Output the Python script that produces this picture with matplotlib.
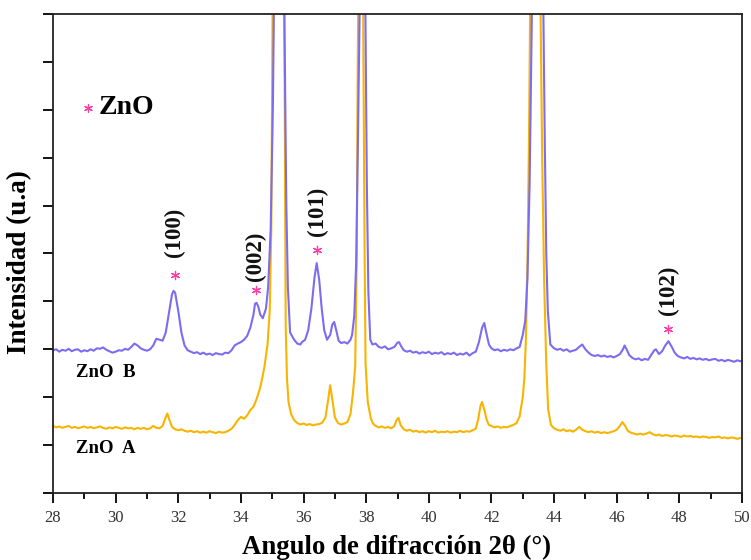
import numpy as np
import matplotlib
matplotlib.use("Agg")
import matplotlib.pyplot as plt

plt.rcParams['font.family'] = ['Liberation Serif', 'DejaVu Serif']

# XRD patterns: (2theta in degrees, intensity in arbitrary units, offset traces)
zno_b = [
    (28.0, 2.98), (28.1, 3.00), (28.2, 2.95), (28.3, 2.99), (28.4, 2.97), (28.5, 3.01), (28.6, 2.96), (28.7, 2.99), (28.8, 3.00), (28.9, 2.95),
    (29.0, 2.98), (29.1, 2.96), (29.2, 3.00), (29.3, 2.97), (29.4, 3.02), (29.5, 3.01), (29.6, 3.04), (29.7, 2.99), (29.8, 2.96), (29.9, 2.93),
    (30.0, 2.95), (30.1, 2.98), (30.2, 2.97), (30.3, 3.01), (30.4, 2.99), (30.5, 3.05), (30.6, 3.12), (30.7, 3.08), (30.8, 3.02), (30.9, 2.99),
    (31.0, 2.97), (31.1, 3.00), (31.2, 3.08), (31.3, 3.22), (31.4, 3.20), (31.5, 3.18), (31.6, 3.35), (31.7, 3.75), (31.8, 4.15), (31.85, 4.22),
    (31.9, 4.18), (32.0, 3.80), (32.1, 3.35), (32.2, 3.08), (32.3, 2.98), (32.4, 2.95), (32.5, 2.92), (32.6, 2.94), (32.7, 2.90), (32.8, 2.93),
    (32.9, 2.89), (33.0, 2.91), (33.1, 2.88), (33.2, 2.92), (33.3, 2.90), (33.4, 2.89), (33.5, 2.93), (33.6, 2.92), (33.7, 2.98), (33.8, 3.08),
    (33.9, 3.12), (34.0, 3.15), (34.1, 3.20), (34.2, 3.28), (34.3, 3.45), (34.4, 3.72), (34.45, 3.95), (34.5, 3.97), (34.55, 3.90), (34.62, 3.72),
    (34.7, 3.65), (34.8, 3.85), (34.87, 4.30), (34.95, 5.50), (35.02, 8.0), (35.06, 10.5), (35.2, 14.0), (35.38, 10.5), (35.45, 6.0), (35.5, 4.3),
    (35.57, 3.35), (35.7, 3.20), (35.8, 3.12), (35.9, 3.10), (35.95, 3.15), (36.05, 3.20), (36.15, 3.40), (36.25, 3.85), (36.35, 4.50), (36.42, 4.80),
    (36.5, 4.45), (36.58, 3.85), (36.66, 3.40), (36.75, 3.20), (36.85, 3.30), (36.92, 3.52), (36.98, 3.57), (37.05, 3.38), (37.12, 3.18), (37.2, 3.13),
    (37.3, 3.15), (37.4, 3.12), (37.5, 3.20), (37.55, 3.30), (37.62, 3.70), (37.68, 4.80), (37.74, 7.5), (37.8, 10.5), (37.88, 14.0), (37.97, 10.5),
    (38.02, 6.5), (38.07, 4.2), (38.13, 3.2), (38.2, 3.10), (38.3, 3.12), (38.4, 3.05), (38.5, 3.03), (38.6, 3.06), (38.7, 3.00), (38.8, 3.02),
    (38.9, 3.05), (39.0, 3.14), (39.05, 3.15), (39.12, 3.06), (39.2, 2.98), (39.3, 2.95), (39.4, 2.97), (39.5, 2.93), (39.6, 2.95), (39.7, 2.91),
    (39.8, 2.94), (39.9, 2.92), (40.0, 2.95), (40.1, 2.90), (40.2, 2.93), (40.3, 2.91), (40.4, 2.94), (40.5, 2.89), (40.6, 2.92), (40.7, 2.90),
    (40.8, 2.93), (40.9, 2.88), (41.0, 2.91), (41.1, 2.89), (41.2, 2.93), (41.3, 2.87), (41.4, 2.92), (41.5, 2.95), (41.6, 3.15), (41.7, 3.45),
    (41.77, 3.55), (41.85, 3.30), (41.92, 3.10), (42.0, 3.02), (42.1, 2.98), (42.2, 3.00), (42.3, 2.96), (42.4, 2.99), (42.5, 2.97), (42.6, 3.00),
    (42.7, 2.98), (42.8, 3.02), (42.9, 3.05), (43.0, 3.30), (43.08, 3.60), (43.15, 4.5), (43.22, 6.5), (43.28, 9.5), (43.3, 10.5), (43.47, 14.0),
    (43.65, 10.5), (43.7, 7.5), (43.75, 5.0), (43.8, 3.8), (43.88, 3.10), (44.0, 3.02), (44.1, 2.99), (44.2, 3.01), (44.3, 2.97), (44.4, 3.00),
    (44.5, 2.95), (44.6, 2.97), (44.7, 2.99), (44.8, 3.05), (44.9, 3.10), (45.0, 3.00), (45.1, 2.93), (45.2, 2.88), (45.3, 2.86), (45.4, 2.88),
    (45.5, 2.85), (45.6, 2.87), (45.7, 2.84), (45.8, 2.86), (45.9, 2.83), (46.0, 2.86), (46.1, 2.90), (46.2, 3.00), (46.25, 3.08), (46.33, 2.98),
    (46.4, 2.88), (46.5, 2.82), (46.6, 2.79), (46.7, 2.81), (46.8, 2.77), (46.9, 2.80), (47.0, 2.78), (47.1, 2.88), (47.2, 2.98), (47.25, 3.00),
    (47.35, 2.90), (47.45, 2.96), (47.55, 3.08), (47.65, 3.17), (47.75, 3.06), (47.85, 2.93), (47.95, 2.86), (48.05, 2.83), (48.15, 2.81), (48.25, 2.84),
    (48.35, 2.80), (48.45, 2.82), (48.55, 2.79), (48.65, 2.81), (48.75, 2.78), (48.85, 2.80), (48.95, 2.77), (49.05, 2.79), (49.15, 2.80), (49.25, 2.76),
    (49.35, 2.78), (49.45, 2.75), (49.55, 2.78), (49.65, 2.76), (49.75, 2.74), (49.85, 2.77), (49.95, 2.75), (50.0, 2.76),
]

zno_a = [
    (28.0, 1.40), (28.1, 1.37), (28.2, 1.39), (28.3, 1.36), (28.4, 1.38), (28.5, 1.40), (28.6, 1.36), (28.7, 1.38), (28.8, 1.35), (28.9, 1.37),
    (29.0, 1.39), (29.1, 1.36), (29.2, 1.38), (29.3, 1.35), (29.4, 1.37), (29.5, 1.39), (29.6, 1.36), (29.7, 1.34), (29.8, 1.37), (29.9, 1.35),
    (30.0, 1.38), (30.1, 1.36), (30.2, 1.34), (30.3, 1.37), (30.4, 1.35), (30.5, 1.36), (30.6, 1.33), (30.7, 1.36), (30.8, 1.34), (30.9, 1.36),
    (31.0, 1.33), (31.1, 1.35), (31.2, 1.40), (31.3, 1.36), (31.4, 1.35), (31.5, 1.40), (31.58, 1.55), (31.65, 1.66), (31.72, 1.52), (31.8, 1.38),
    (31.9, 1.33), (32.0, 1.31), (32.1, 1.33), (32.2, 1.30), (32.3, 1.28), (32.4, 1.30), (32.5, 1.27), (32.6, 1.29), (32.7, 1.26), (32.8, 1.28),
    (32.9, 1.26), (33.0, 1.29), (33.1, 1.27), (33.2, 1.25), (33.3, 1.28), (33.4, 1.26), (33.5, 1.27), (33.6, 1.30), (33.7, 1.34), (33.8, 1.42),
    (33.9, 1.52), (34.0, 1.59), (34.1, 1.55), (34.2, 1.62), (34.3, 1.73), (34.4, 1.80), (34.5, 1.96), (34.58, 2.12), (34.65, 2.30), (34.75, 2.63),
    (34.85, 3.10), (34.92, 3.80), (34.97, 5.5), (35.0, 9.0), (35.03, 12.0), (35.2, 14.0), (35.37, 12.0), (35.4, 8.0), (35.43, 3.5), (35.47, 2.4),
    (35.52, 1.90), (35.6, 1.65), (35.7, 1.52), (35.8, 1.46), (35.9, 1.43), (36.0, 1.45), (36.1, 1.42), (36.2, 1.44), (36.3, 1.41), (36.4, 1.43),
    (36.5, 1.44), (36.6, 1.47), (36.7, 1.58), (36.78, 1.92), (36.85, 2.25), (36.92, 1.95), (37.0, 1.58), (37.1, 1.46), (37.2, 1.43), (37.3, 1.45),
    (37.4, 1.48), (37.5, 1.65), (37.58, 2.10), (37.65, 2.65), (37.7, 5.0), (37.73, 9.0), (37.8, 14.0), (37.9, 10.5), (37.95, 5.0), (37.98, 2.7),
    (38.05, 1.90), (38.15, 1.55), (38.22, 1.45), (38.3, 1.40), (38.4, 1.37), (38.5, 1.39), (38.6, 1.36), (38.7, 1.38), (38.8, 1.35), (38.9, 1.40),
    (38.97, 1.52), (39.03, 1.57), (39.1, 1.42), (39.2, 1.33), (39.3, 1.30), (39.4, 1.32), (39.5, 1.28), (39.6, 1.30), (39.7, 1.27), (39.8, 1.29),
    (39.9, 1.26), (40.0, 1.29), (40.1, 1.27), (40.2, 1.30), (40.3, 1.26), (40.4, 1.28), (40.5, 1.27), (40.6, 1.29), (40.7, 1.26), (40.8, 1.28),
    (40.9, 1.27), (41.0, 1.30), (41.1, 1.27), (41.2, 1.29), (41.3, 1.28), (41.4, 1.31), (41.5, 1.34), (41.58, 1.55), (41.65, 1.82), (41.7, 1.90),
    (41.78, 1.72), (41.85, 1.52), (41.92, 1.42), (42.0, 1.40), (42.1, 1.37), (42.2, 1.39), (42.3, 1.36), (42.4, 1.38), (42.5, 1.37), (42.6, 1.40),
    (42.7, 1.42), (42.8, 1.46), (42.9, 1.60), (43.0, 2.00), (43.05, 2.40), (43.1, 3.2), (43.15, 4.8), (43.2, 7.5), (43.24, 10.5), (43.4, 14.0),
    (43.56, 10.5), (43.62, 7.0), (43.68, 4.5), (43.75, 2.70), (43.81, 1.75), (43.9, 1.42), (44.0, 1.35), (44.1, 1.32), (44.2, 1.30), (44.3, 1.33),
    (44.4, 1.29), (44.5, 1.31), (44.6, 1.28), (44.7, 1.32), (44.8, 1.38), (44.9, 1.32), (45.0, 1.29), (45.1, 1.27), (45.2, 1.29), (45.3, 1.26),
    (45.4, 1.28), (45.5, 1.25), (45.6, 1.27), (45.7, 1.25), (45.8, 1.27), (45.9, 1.29), (46.0, 1.32), (46.1, 1.40), (46.18, 1.48), (46.27, 1.40),
    (46.35, 1.30), (46.45, 1.26), (46.55, 1.24), (46.65, 1.22), (46.75, 1.24), (46.85, 1.22), (46.95, 1.24), (47.05, 1.27), (47.15, 1.23), (47.25, 1.20),
    (47.35, 1.22), (47.45, 1.19), (47.55, 1.21), (47.65, 1.20), (47.75, 1.18), (47.85, 1.20), (47.95, 1.19), (48.05, 1.17), (48.15, 1.20), (48.25, 1.18),
    (48.35, 1.19), (48.45, 1.17), (48.55, 1.18), (48.65, 1.16), (48.75, 1.18), (48.85, 1.17), (48.95, 1.15), (49.05, 1.17), (49.15, 1.16), (49.25, 1.18),
    (49.35, 1.15), (49.45, 1.16), (49.55, 1.14), (49.65, 1.16), (49.75, 1.15), (49.85, 1.13), (49.95, 1.15), (50.0, 1.14),
]

# ZnO reflections marked on the ZnO B trace
hkl_labels = ["(100)", "(002)", "(101)", "(102)"]
hkl_pos = [31.88, 34.47, 36.43, 47.64]
hkl_star_y = [4.55, 4.24, 5.07, 3.42]
hkl_text_y = [5.45, 4.95, 5.87, 4.24]

sample_labels = ["ZnO  B", "ZnO  A"]
sample_label_y = [2.52, 0.92]

x_ticks = list(range(28, 51, 2))
x_minor = list(range(29, 50, 2))
y_ticks = list(range(0, 11))

color_b = "#7b6cf2"
color_a = "#f8b400"
star_color = "#ff3ea5"

fig = plt.figure(figsize=(7.51, 5.60), dpi=100)
ax = fig.add_axes([53 / 751, 1 - 493 / 560, 689 / 751, 479 / 560])

xa, ya = np.array(zno_a).T
xb, yb = np.array(zno_b).T
ax.plot(xa, ya, color=color_a, lw=1.5, solid_joinstyle="round")
ax.plot(xb, yb, color=color_b, lw=1.5, solid_joinstyle="round")

ax.set_xlim(28, 50)
ax.set_ylim(0, 10)

ax.set_xticks(x_ticks)
ax.set_xticklabels([str(t) for t in x_ticks], fontsize=12, color="#333333")
ax.set_xticks(x_minor, minor=True)
ax.set_yticks(y_ticks)
ax.set_yticklabels([])
ax.tick_params(axis="x", which="major", direction="out", length=7.5, width=1.3, pad=5)
ax.tick_params(axis="x", which="minor", direction="out", length=4, width=1.3)
ax.tick_params(axis="y", which="major", direction="out", length=7, width=1.3)
for s in ax.spines.values():
    s.set_linewidth(1.3)
    s.set_color("#222222")

# peak markers and Miller indices
ax.scatter(hkl_pos, hkl_star_y, marker=(6, 2, 0), s=35, color=star_color, lw=0.9, zorder=5)
for lab, x, y in zip(hkl_labels, hkl_pos, hkl_text_y):
    ax.text(x, y, lab, rotation=90, ha="center", va="center",
            fontsize=16.5, fontweight="bold", color="#111111")

# phase legend
ax.scatter([29.12], [8.04], marker=(6, 2, 0), s=32, color=star_color, lw=0.9, zorder=5)
ax.text(29.45, 8.04, "ZnO", ha="left", va="center", fontsize=20, fontweight="bold")

for lab, y in zip(sample_labels, sample_label_y):
    ax.text(28.72, y, lab, ha="left", va="center", fontsize=13.5, fontweight="bold")

fig.text(397 / 751, 1 - 547 / 560, "Angulo de difracción 2θ (°)", ha="center", va="center",
         fontsize=19.3, fontweight="bold")
fig.text(20 / 751, 1 - 262 / 560, "Intensidad (u.a)", ha="center", va="center",
         rotation=90, fontsize=19.5, fontweight="bold")

fig.savefig("out.png", dpi=100)
